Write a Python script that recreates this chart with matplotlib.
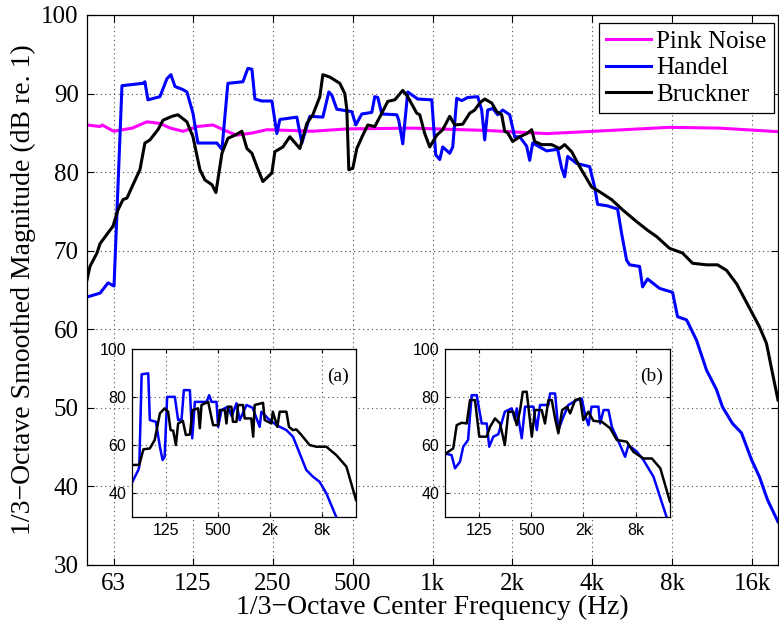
import matplotlib
matplotlib.use('Agg')
import matplotlib.pyplot as plt
from matplotlib.ticker import NullLocator

# main plot data (Hz, dB)
pink_freq = [50, 56, 57, 63, 74, 84, 94, 103, 115, 130, 149, 168, 183, 211, 238,
             354, 476, 843, 1600, 2691, 3805, 7810, 12045, 20000]
pink_db = [86.0, 85.8, 86.0, 85.2, 85.6, 86.4, 86.2, 85.6, 85.2, 85.8, 86.0, 85.2, 84.7, 85.0, 85.4,
           85.2, 85.5, 85.6, 85.3, 84.9, 85.15, 85.7, 85.6, 85.15]

handel_freq = [50, 56, 60, 63.2, 67.7, 81.2, 82.6, 84.8, 91.7, 94.1, 100, 103.5, 107.2, 114.9, 118.9,
               125.3, 130.8, 154.2, 161.1, 169.6, 193.2, 201.7, 208.9, 214.4, 227.8, 248.4, 259.4,
               266.2, 308.4, 322.1, 345.2, 386.4, 407, 417.7, 436.2, 496.7, 514.2, 541.7, 590.7,
               606.3, 622.2, 644.2, 733.6, 746.4, 772.8, 807, 880, 993.4, 1028.5, 1064.8, 1092.8,
               1161.1, 1191.8, 1233.8, 1288.4, 1357.1, 1480, 1532.2, 1572.5, 1613.9, 1685.4, 1760,
               1837.9, 1952.8, 2039.4, 2129.6, 2262.7, 2322.2, 2383.5, 2690.9, 2960, 3064.3, 3145,
               3227.8, 3489.6, 3905.6, 4078.7, 4185.9, 4564.8, 4977.9, 5153.6, 5381.8, 5523.5,
               6023.4, 6182.1, 6455.7, 7162.9, 8017.3, 8371.8, 9050.9, 9870.1, 10763.5, 11737.6,
               12364.2, 13483.5, 14576.6, 15895, 17036.8, 18259, 20000]
handel_db = [64.1, 64.6, 65.9, 65.5, 91.0, 91.3, 91.5, 89.2, 89.5, 89.6, 91.9, 92.4, 90.9, 90.5, 90.2,
             87.5, 83.7, 83.7, 82.9, 91.3, 91.5, 93.2, 93.1, 89.3, 89.05, 89.05, 84.9,
             86.7, 87.0, 83.7, 87.1, 87.0, 90.2, 89.8, 88.0, 87.7, 86.0, 87.4, 87.6,
             89.6, 89.5, 87.4, 87.3, 86.6, 83.6, 90.2, 89.3, 89.2, 82.2, 81.6, 83.2,
             82.4, 83.2, 89.4, 89.1, 89.5, 89.6, 87.9, 84.1, 87.9, 88.1, 87.3,
             87.9, 87.3, 84.5, 84.5, 83.3, 81.5, 83.7, 82.7, 82.9, 80.5, 79.4,
             82.0, 81.1, 80.7, 78.1, 75.9, 75.7, 75.3, 72.2, 68.8, 68.2,
             68.0, 65.4, 66.4, 65.2, 64.7, 61.6, 61.2, 58.6, 54.8, 52.3,
             50.1, 48.0, 46.8, 43.4, 41.2, 38.3, 35.5]

bruckner_freq = [50, 51.3, 54.5, 56, 61, 62.6, 65.4, 68.3, 70.7, 74.5, 79.1, 82.6, 86.3, 92.5, 96.6,
                 104.4, 110, 118.9, 125.3, 133.1, 139, 147.7, 152.9, 161.1, 169.6, 180.3, 191.5,
                 200, 208.9, 218.1, 229.7, 248.4, 254.9, 273.2, 290.3, 316.6, 336.4, 354.3, 376.5,
                 386.4, 410.5, 447.7, 467.5, 475.7, 484, 501.1, 518.7, 546.4, 570.6, 606.3, 644.2,
                 678.6, 721, 772.8, 807, 872.4, 895.4, 935, 976.4, 1037.4, 1092.8, 1161.1, 1212.6,
                 1299.6, 1380.9, 1442, 1505.8, 1572.5, 1670.9, 1744.8, 1822.1, 1870.1, 1919.4,
                 2004.3, 2129.6, 2262.7, 2362.9, 2425.1, 2576.8, 2810.1, 3011.7, 3145, 3341.8,
                 3581.4, 3973.8, 4259.2, 4725.8, 5198.4, 5868.8, 6455.7, 6979.2, 7811.2, 8742.4,
                 9534.1, 10763.5, 11840, 12800, 13958, 14960.6, 17036.8, 18101.8, 19068, 20000]
bruckner_db = [66.3, 68.0, 69.7, 70.9, 72.6, 73.1, 75.2, 76.5, 76.7, 78.4, 80.3, 83.7, 84.1, 85.4, 86.6,
               87.1, 87.3, 86.4, 84.5, 80.3, 79.0, 78.4, 77.4, 82.4, 84.3, 84.7, 85.2,
               83.0, 82.4, 80.7, 78.8, 79.9, 82.6, 83.2, 84.5, 83.0, 86.2, 87.3, 89.6,
               92.4, 92.1, 91.3, 90.0, 88.0, 80.3, 80.5, 83.0, 84.7, 86.0, 85.8, 87.5,
               89.0, 89.2, 90.4, 89.6, 87.5, 87.3, 84.9, 83.2, 84.7, 85.4, 87.1, 86.0,
               86.1, 87.5, 87.9, 88.8, 89.3, 88.8, 87.7, 87.3, 85.2, 85.0,
               83.9, 84.5, 84.9, 85.4, 83.9, 83.5, 83.5, 83.0, 83.5, 82.6,
               80.7, 78.1, 77.5, 76.5, 75.2, 73.7, 72.6, 71.8, 70.3, 69.7,
               68.4, 68.2, 68.2, 67.5, 65.8, 63.9, 60.3, 58.2, 54.4, 51.0]

# inset (a)
a_handel_freq = [50, 59.7, 61.3, 65.3, 77.8, 81.3, 95.5, 106.3, 114.2, 120.7, 129, 158.4, 173, 189.7,
                 201.6, 236.7, 252, 270.5, 369.7, 396, 421.8, 481.8, 503.9, 550.8, 651.4, 724, 821.6,
                 896, 1073.8, 1267, 1525.4, 1600, 1906, 2385, 3117, 3710, 4446, 5300, 6333, 7545,
                 9051, 11830]
a_handel_db = [44.0, 49.6, 51.0, 89.5, 89.9, 70.4, 69.7, 59.3, 53.75, 55.1, 80.1, 80.1, 70.4, 70.8,
               82.9, 82.9, 62.8, 78.0, 78.0, 80.8, 78.0, 78.0, 67.6, 74.6, 76.0, 72.0, 77.4,
               70.4, 76.7, 75.5, 67.6, 73.9, 71.1, 68.3, 66.25, 63.5, 56.5, 49.6, 46.8, 44.7,
               39.9, 29.9]
a_bruckner_freq = [50, 61.3, 68.4, 81.3, 92.5, 106.3, 120.7, 132.3, 141.4, 151.6, 162.9, 173, 196.2,
                   212.6, 236.7, 254.3, 295.2, 308.8, 322.9, 385.8, 440.1, 503.9, 527.6, 601.4,
                   628.5, 656.3, 717, 747.6, 821.6, 857.4, 978, 1024, 1219.6, 1284, 1336, 1670,
                   1746, 2090, 2169, 2446, 2606, 3117, 3340, 3710, 4068, 4656, 5793, 6925, 9051,
                   11830, 15478, 20000]
a_bruckner_db = [51.7, 51.7, 58.2, 58.6, 62.1, 73.2, 75.3, 73.9, 66.25, 66.0, 60.0, 69.0, 70.1,
                 64.2, 64.4, 74.6, 75.3, 67.0, 76.7, 78.0, 68.3, 68.3, 74.6, 74.6,
                 69.0, 76.0, 76.0, 69.7, 69.7, 76.7, 76.7, 71.1, 71.1, 63.5, 76.7, 77.6,
                 70.4, 69.0, 73.9, 67.6, 73.9, 73.9, 67.6, 66.25, 66.5, 64.2, 60.0, 59.3, 59.3,
                 55.8, 51.0, 37.1]

# inset (b)
b_handel_freq = [50, 59.6, 65.3, 74.5, 81.3, 92.5, 101.9, 116.3, 133, 152, 162.6, 181.4, 207, 246.2,
                 295.7, 322.9, 338.2, 386.4, 421.8, 527.6, 577, 628.5, 785.6, 821.6, 939, 1024,
                 1171, 1336, 1673, 1910, 2090, 2281, 2480, 2974, 3117, 3418, 3892, 4258, 5300,
                 6058, 6626, 8296, 9880, 12900, 18420]
b_handel_db = [56.5, 55.8, 50.3, 53.0, 59.3, 62.1, 80.8, 80.8, 69.0, 69.0, 59.3, 63.5, 64.5, 73.9,
               75.3, 70.4, 75.3, 62.8, 76.0, 76.0, 66.25, 76.7, 76.7, 81.5, 81.5, 66.25,
               71.8, 76.7, 78.75, 79.4, 72.5, 68.3, 76.0, 76.0, 69.0, 74.6, 74.6, 67.6, 60.0,
               55.1, 60.0, 57.2, 53.75, 46.8, 29.6]
b_bruckner_freq = [50, 62.3, 68.3, 78, 89.3, 97.4, 111.3, 124.7, 152, 166, 189.7, 216.7, 246.2, 270.5,
                   308.8, 338.2, 369.7, 397.4, 441, 504.9, 550.8, 657.8, 717, 785.6, 858.8, 939,
                   1024, 1132.6, 1287.6, 1403, 1600, 1826, 1990, 2281, 2606, 3261, 4068, 4860,
                   6338, 7545, 9880, 12364, 15478, 20000]
b_bruckner_db = [56.25, 58.6, 68.3, 69.3, 69.0, 78.75, 78.75, 63.5, 63.5, 67.6, 71.1, 69.0, 60.0, 73.9,
                 73.9, 68.3, 74.6, 82.2, 82.2, 63.5, 74.6, 74.6, 69.0, 78.75, 78.75, 71.1,
                 64.9, 74.6, 76.0, 73.2, 78.75, 79.4, 70.4, 73.9, 70.1, 69.7, 67.0, 62.1,
                 61.4, 57.2, 54.4, 54.4, 50.3, 36.4]

xticks = [63, 125, 250, 500, 1000, 2000, 4000, 8000, 16000]
xtick_labels = ['63', '125', '250', '500', '1k', '2k', '4k', '8k', '16k']
yticks = [30, 40, 50, 60, 70, 80, 90, 100]
inset_xticks = [125, 500, 2000, 8000]
inset_xtick_labels = ['125', '500', '2k', '8k']
inset_yticks = [40, 60, 80, 100]

plt.rcParams['font.family'] = ['Liberation Serif', 'DejaVu Serif']
grid_style = dict(linestyle=(0, (1, 3)), color='0.3', linewidth=0.8)

fig = plt.figure(figsize=(7.79, 6.24), dpi=100)
ax = fig.add_axes([0.1117, 0.0946, 0.8870, 0.8814])
ax.plot(pink_freq, pink_db, color='#ff00ff', lw=2.2, label='Pink Noise')
ax.plot(handel_freq, handel_db, color='#0000ff', lw=2.2, label='Handel')
ax.plot(bruckner_freq, bruckner_db, color='black', lw=2.2, label='Bruckner')
ax.set_xscale('log')
ax.set_xlim(50, 20000)
ax.set_ylim(30, 100)
ax.set_xticks(xticks)
ax.set_xticklabels(xtick_labels)
ax.xaxis.set_minor_locator(NullLocator())
ax.set_yticks(yticks)
ax.tick_params(direction='in', top=True, right=True, labelsize=18, length=5, pad=6)
ax.grid(True, **grid_style)
for s in ax.spines.values():
    s.set_linewidth(0.9)
ax.set_xlabel('1/3\u2212Octave Center Frequency (Hz)', fontsize=20, labelpad=0)
ax.set_ylabel('1/3\u2212Octave Smoothed Magnitude (dB re. 1)', fontsize=20, labelpad=4)
leg = ax.legend(loc='upper right', bbox_to_anchor=(0.994, 0.985), fontsize=18,
                handlelength=1.8, borderaxespad=0, fancybox=False, framealpha=1,
                edgecolor='black', borderpad=0.3, labelspacing=0.15, handletextpad=0.18)
leg.get_frame().set_linewidth(0.9)

def inset(rect, hf, hd, bf, bd, tag):
    a = fig.add_axes(rect, zorder=5)
    a.set_facecolor('white')
    a.plot(hf, hd, color='#0000ff', lw=1.8)
    a.plot(bf, bd, color='black', lw=1.8)
    a.set_xscale('log')
    a.set_xlim(50, 20000)
    a.set_ylim(30, 100)
    a.set_xticks(inset_xticks)
    a.set_xticklabels(inset_xtick_labels)
    a.xaxis.set_minor_locator(NullLocator())
    a.set_yticks(inset_yticks)
    a.tick_params(direction='in', top=True, right=True, labelsize=11.5, length=3, pad=4)
    for lab in a.get_xticklabels() + a.get_yticklabels():
        lab.set_family(['Liberation Sans', 'DejaVu Sans'])
    a.grid(True, **grid_style)
    for s in a.spines.values():
        s.set_linewidth(0.9)
    a.text(0.97, 0.84, tag, transform=a.transAxes, ha='right', va='center', fontsize=14)
    return a

inset([0.169, 0.1715, 0.288, 0.269], a_handel_freq, a_handel_db,
      a_bruckner_freq, a_bruckner_db, '(a)')
inset([0.5712, 0.1715, 0.2888, 0.269], b_handel_freq, b_handel_db,
      b_bruckner_freq, b_bruckner_db, '(b)')

fig.savefig('out.png', dpi=100)
